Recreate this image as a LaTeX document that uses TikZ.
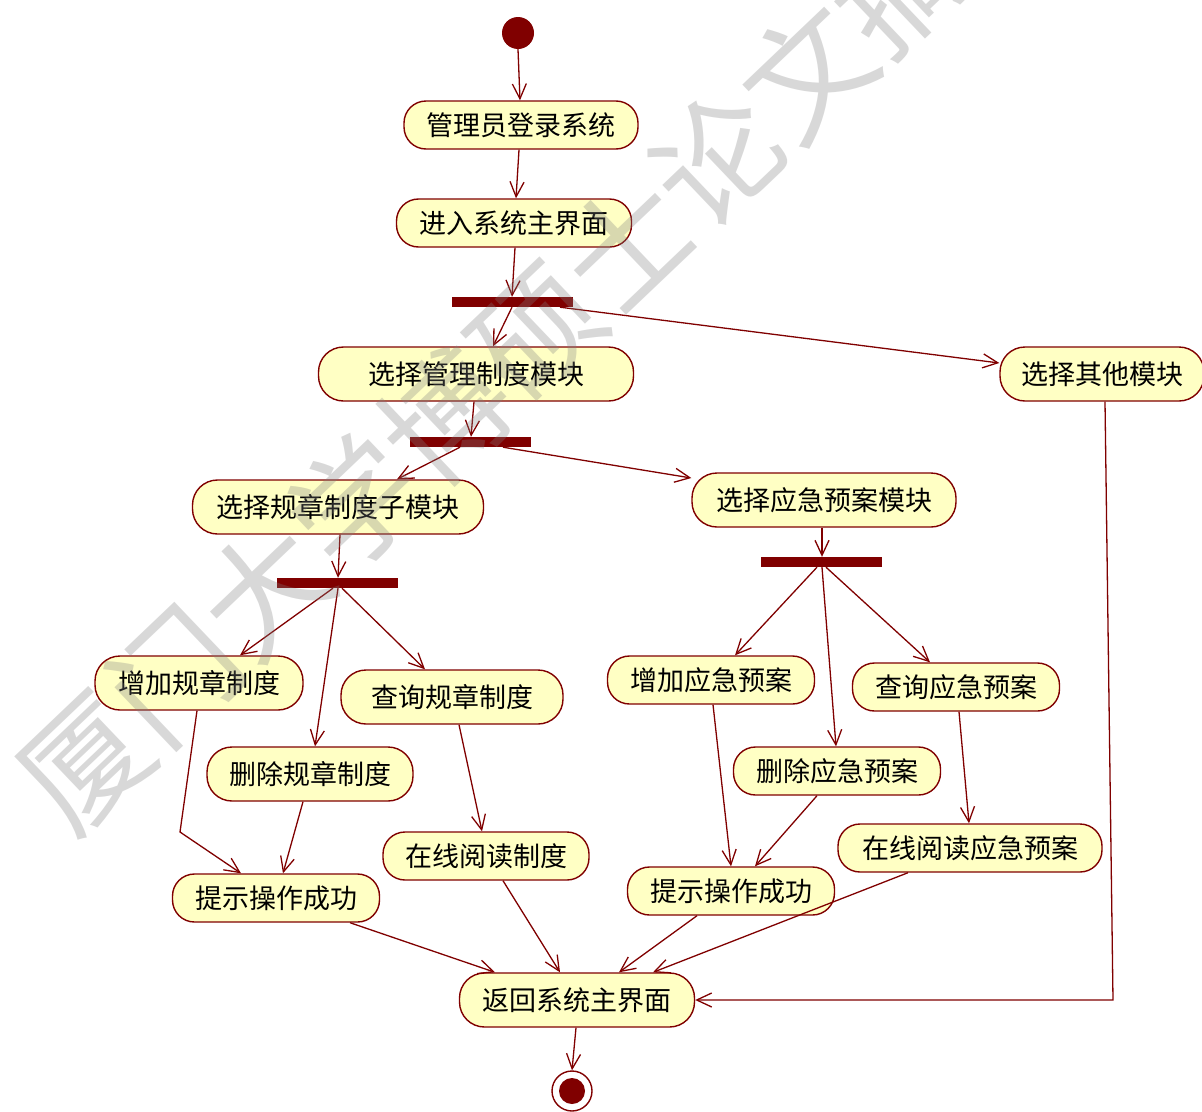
\documentclass[tikz,border=0pt]{standalone}
\usepackage{fontspec}
\newfontfamily\cjk{Noto Sans CJK SC}
\usetikzlibrary{arrows.meta,calc}
\definecolor{dred}{RGB}{128,0,0}
\definecolor{yel}{RGB}{255,255,196}
\definecolor{wm}{RGB}{128,128,128}
\tikzset{
  act/.style={draw=dred, fill=yel, line width=1.4pt, minimum height=48pt,
    rounded corners=22pt, inner sep=0pt, text=black,
    font=\cjk\fontsize{27}{30}\selectfont},
  tall/.style={minimum height=54pt, rounded corners=25pt},
  bar/.style={fill=dred, draw=none, minimum width=121pt, minimum height=10pt, inner sep=0pt},
  arr/.style={draw=dred, line width=1.3pt, -{Straight Barb[length=15pt,width=14pt,line width=1.3pt]}},
}
\begin{document}
\begin{tikzpicture}[x=1pt,y=-1pt]
\useasboundingbox (0,0) rectangle (1202,1111);
\fill[white] (0,0) rectangle (1202,1111);

% start / end
\node[circle, fill=dred, minimum size=32pt, inner sep=0pt] (start) at (518,33) {};
\node[circle, draw=dred, fill=white, line width=1.4pt, minimum size=40pt, inner sep=0pt] (end) at (572,1091) {};
\fill[dred] (end.center) circle (13pt);

% activities
\node[act, minimum width=234pt] (n1) at (521,125) {管理员登录系统};
\node[act, minimum width=235pt] (n2) at (514,223) {进入系统主界面};
\node[bar] (bar1) at (512,302) {};
\node[act, tall, minimum width=315pt] (n3) at (476,374) {选择管理制度模块};
\node[act, tall, minimum width=204pt] (n4) at (1102,374) {选择其他模块};
\node[bar] (bar2) at (470,442) {};
\node[act, tall, minimum width=291pt] (n5) at (338,507) {选择规章制度子模块};
\node[act, tall, minimum width=264pt] (n6) at (824,500) {选择应急预案模块};
\node[bar] (bar3) at (337,583) {};
\node[bar] (bar4) at (821,562) {};
\node[act, tall, minimum width=208pt] (n7) at (199,683) {增加规章制度};
\node[act, tall, minimum width=222pt] (n8) at (452,697) {查询规章制度};
\node[act, tall, minimum width=206pt] (n9) at (310,774) {删除规章制度};
\node[act, minimum width=206pt] (n10) at (486,856) {在线阅读制度};
\node[act, minimum width=207pt] (n11) at (276,898) {提示操作成功};
\node[act, minimum width=207pt] (n12) at (711,680) {增加应急预案};
\node[act, minimum width=207pt] (n13) at (956,687) {查询应急预案};
\node[act, minimum width=207pt] (n14) at (837,771) {删除应急预案};
\node[act, minimum width=264pt] (n15) at (970,848) {在线阅读应急预案};
\node[act, minimum width=207pt] (n16) at (731,891) {提示操作成功};
\node[act, tall, minimum width=235pt] (n17) at (577,1000) {返回系统主界面};

\coordinate (bendA) at (180,832);
\coordinate (bendB) at (1113,1000);

% connectors
\draw[arr] (start.south) -- ([xshift=-1pt]n1.north);
\draw[arr] ([xshift=-2pt]n1.south) -- ([xshift=2pt]n2.north);
\draw[arr] ([xshift=1pt]n2.south) -- (bar1.north);
\draw[arr] (bar1.south) -- ([xshift=17pt]n3.north);
\draw[arr] ([xshift=48pt]bar1.south) -- ([yshift=11pt]n4.west);
\draw[arr] ([xshift=-2pt]n3.south) -- ([xshift=1pt]bar2.north);
\draw[arr] ([xshift=-10pt]bar2.south) -- ([xshift=59pt]n5.north);
\draw[arr] ([xshift=33pt]bar2.south) -- ([yshift=22pt]n6.west);
\draw[arr] ([xshift=2pt]n5.south) -- ([xshift=1pt]bar3.north);
\draw[arr] ([xshift=-4pt]bar3.south) -- ([xshift=41pt]n7.north);
\draw[arr] ([xshift=1pt]bar3.south) -- ([xshift=5pt]n9.north);
\draw[arr] ([xshift=5pt]bar3.south) -- ([xshift=-27pt]n8.north);
\draw[arr] ([xshift=-2pt]n7.south) -- (bendA) -- ([xshift=-35pt]n11.north);
\draw[arr] ([xshift=-7pt]n9.south) -- ([xshift=7pt]n11.north);
\draw[arr] ([xshift=7pt]n8.south) -- ([xshift=-4pt]n10.north);
\draw[arr] ([xshift=17pt]n10.south) -- ([xshift=-17pt]n17.north);
\draw[arr] ([xshift=74pt]n11.south) -- ([xshift=-82pt]n17.north);
\draw[arr] ([xshift=-34pt]n16.south) -- ([xshift=42pt]n17.north);
\draw[arr] ([xshift=-62pt]n15.south) -- ([xshift=76pt]n17.north);
\draw[arr] ([xshift=3pt]n4.south) -- (bendB) -- (n17.east);
\draw[arr] ([xshift=-1pt]n17.south) -- (end.north);
\draw[arr] ([xshift=-2pt]n6.south) -- ([xshift=1pt]bar4.north);
\draw[arr] ([xshift=-4pt]bar4.south) -- ([xshift=24pt]n12.north);
\draw[arr] ([xshift=1pt]bar4.south) -- ([xshift=-1pt]n14.north);
\draw[arr] ([xshift=5pt]bar4.south) -- ([xshift=-26pt]n13.north);
\draw[arr] ([xshift=2pt]n12.south) -- (n16.north);
\draw[arr] ([xshift=-20pt]n14.south) -- ([xshift=24pt]n16.north);
\draw[arr] ([xshift=3pt]n13.south) -- ([xshift=-1pt]n15.north);

% watermark
\begin{scope}
\clip (0,0) rectangle (1202,1111);
\node[anchor=west, rotate=43.6, inner sep=0pt, text=wm, opacity=0.3,
  font=\cjk\fontsize{125}{125}\selectfont] (wmark) at (38,805) {厦门大学博硕士论文摘要库};
\end{scope}
\end{tikzpicture}
\end{document}
